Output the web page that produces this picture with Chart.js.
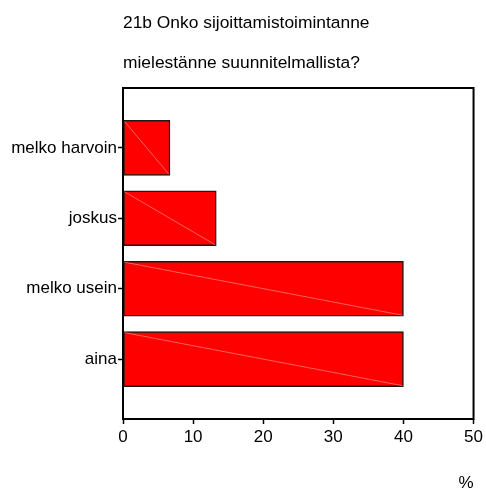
<!DOCTYPE html>
<html>
<head>
<meta charset="utf-8">
<script src="https://cdn.jsdelivr.net/npm/chart.js@4/dist/chart.umd.min.js"></script>
<style>
  body { margin: 0; background: #fff; }
  #wrap { width: 486px; height: 489px; position: relative; }
</style>
</head>
<body>
<div id="wrap"><canvas id="myChart"></canvas></div>
<script>
var titleLines = ['21b Onko sijoittamistoimintanne', 'mielestänne suunnitelmallista?'];
var categories = ['melko harvoin', 'joskus', 'melko usein', 'aina'];
var percents = [6.7, 13.3, 40.0, 40.0];
var xTicks = [0, 10, 20, 30, 40, 50];
var unitLabel = '%';

var FONT = 'Liberation Sans, Arial, sans-serif';
Chart.defaults.font.family = FONT;
Chart.defaults.font.size = 17;
Chart.defaults.color = '#000';

// frame round the plot + two line title above it
var framePlugin = {
    id: 'frame',
    afterDatasetsDraw: function (chart) {
        var c = chart.ctx;
        // faint diagonal in every bar (as in the original export)
        var meta = chart.getDatasetMeta(0);
        c.save();
        c.strokeStyle = 'rgba(255,200,200,0.8)';
        c.lineWidth = 0.6;
        meta.data.forEach(function (bar) {
            var p = bar.getProps(['x', 'y', 'base', 'height'], true);
            c.beginPath();
            c.moveTo(p.base + 1, p.y - p.height / 2 + 1);
            c.lineTo(p.x - 1, p.y + p.height / 2 - 1);
            c.stroke();
        });
        c.restore();
    },
    afterDraw: function (chart) {
        var c = chart.ctx, a = chart.chartArea;
        c.save();
        c.strokeStyle = '#000';
        c.lineWidth = 2;
        c.strokeRect(a.left, a.top, a.right - a.left, a.bottom - a.top);
        c.fillStyle = '#000';
        c.font = '17.4px ' + FONT;
        c.textAlign = 'left';
        c.textBaseline = 'alphabetic';
        c.fillText(titleLines[0], a.left, 28);
        c.fillText(titleLines[1], a.left, 68);
        c.restore();
    }
};

var ctx = document.getElementById('myChart');
var myChart = new Chart(ctx, {
    type: 'bar',
    data: {
        datasets: [{
            data: percents.map(function (v, i) { return { x: v, y: i }; }),
            backgroundColor: '#ff0000',
            borderColor: '#1a1a1a',
            borderWidth: 1.5,
            borderSkipped: false,
            barThickness: 55
        }]
    },
    plugins: [framePlugin],
    options: {
        indexAxis: 'y',
        responsive: true,
        maintainAspectRatio: false,
        animation: false,
        layout: {
            padding: { left: 0, right: 12, top: 88, bottom: 0 }
        },
        plugins: {
            legend: { display: false },
            title: { display: false },
            tooltip: { enabled: false }
        },
        scales: {
            x: {
                type: 'linear',
                min: xTicks[0],
                max: xTicks[xTicks.length - 1],
                afterBuildTicks: function (axis) {
                    axis.ticks = xTicks.map(function (v) { return { value: v }; });
                },
                afterFit: function (axis) { axis.height = 70; },
                border: { display: false },
                grid: { drawOnChartArea: false, drawTicks: true, tickLength: 5, tickColor: '#000', tickWidth: 1.5 },
                ticks: { padding: 3, color: '#000', maxRotation: 0 },
                title: {
                    display: true,
                    text: unitLabel,
                    align: 'end',
                    color: '#000',
                    font: { size: 17 },
                    padding: { top: 0, bottom: -5 }
                }
            },
            y: {
                type: 'linear',
                reverse: true,
                offset: false,
                min: -0.85,
                max: categories.length - 1 + 0.85,
                afterBuildTicks: function (axis) {
                    axis.ticks = categories.map(function (c, i) { return { value: i }; });
                },
                afterFit: function (axis) { axis.width = 123; },
                border: { display: false },
                grid: { offset: false, drawOnChartArea: false, drawTicks: true, tickLength: 5, tickColor: '#000', tickWidth: 1.5 },
                ticks: {
                    padding: 1,
                    color: '#000',
                    callback: function (v) { return categories[v]; }
                }
            }
        }
    }
});
</script>
</body>
</html>
